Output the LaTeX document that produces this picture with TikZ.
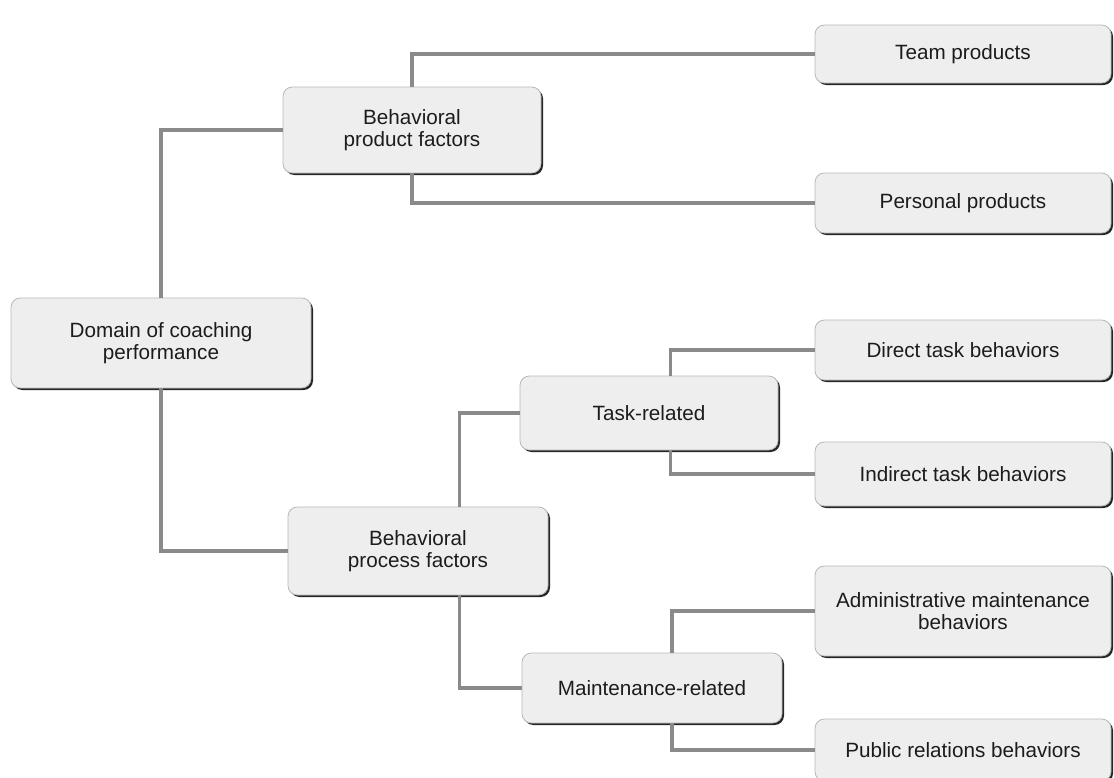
\documentclass[tikz,border=0pt]{standalone}
\usepackage{fontspec}
\setmainfont{Liberation Sans}
\usetikzlibrary{shadows}
\definecolor{boxfill}{HTML}{EEEEEE}
\definecolor{boxedge}{HTML}{B8B8B8}
\definecolor{wire}{HTML}{8A8A8A}
\definecolor{ink}{HTML}{1C1C1C}
\begin{document}
\begin{tikzpicture}[x=0.75pt,y=-0.75pt,
  box/.style 2 args={draw=boxedge, line width=0.6pt, fill=boxfill,
    rounded corners=7pt, minimum width=#1*0.75pt, minimum height=#2*0.75pt,
    inner sep=0pt, align=center, text=ink,
    font=\fontsize{15.5}{16.5}\selectfont,
    drop shadow={shadow xshift=1.5pt, shadow yshift=-1.5pt, fill=black!85, opacity=1}},
  conn/.style={draw=wire, line width=2.6pt}]
\useasboundingbox (0,0) rectangle (1114,778);

% root
\node[box={300}{90}] (dom) at (161,343) {Domain of coaching\\performance};

% product branch
\node[box={258}{86}] (bpf) at (412,130) {Behavioral\\product factors};
\node[box={296}{58}] (team) at (963,54) {Team products};
\node[box={296}{60}] (pers) at (963,203) {Personal products};

% process branch
\node[box={260}{88}] (bprf) at (418,551) {Behavioral\\process factors};
\node[box={258}{74}] (task) at (649,413) {Task-related};
\node[box={296}{60}] (direct) at (963,350) {Direct task behaviors};
\node[box={296}{64}] (indirect) at (963,474) {Indirect task behaviors};
\node[box={260}{70}] (maint) at (652,688) {Maintenance-related};
\node[box={296}{90}] (admin) at (963,611) {Administrative maintenance\\behaviors};
\node[box={296}{62}] (public) at (963,750) {Public relations behaviors};

% elbow connectors
\draw[conn] (dom.north) |- (bpf.west);
\draw[conn] (dom.south) |- (bprf.west);
\draw[conn] (bpf.north) |- (team.west);
\draw[conn] (bpf.south) |- (pers.west);
\draw[conn] ([xshift=31pt]bprf.north) |- (task.west);
\draw[conn] ([xshift=31pt]bprf.south) |- (maint.west);
\draw[conn] ([xshift=16pt]task.north) |- (direct.west);
\draw[conn] ([xshift=16pt]task.south) |- (indirect.west);
\draw[conn] ([xshift=15pt]maint.north) |- (admin.west);
\draw[conn] ([xshift=15pt]maint.south) |- (public.west);
\end{tikzpicture}
\end{document}
